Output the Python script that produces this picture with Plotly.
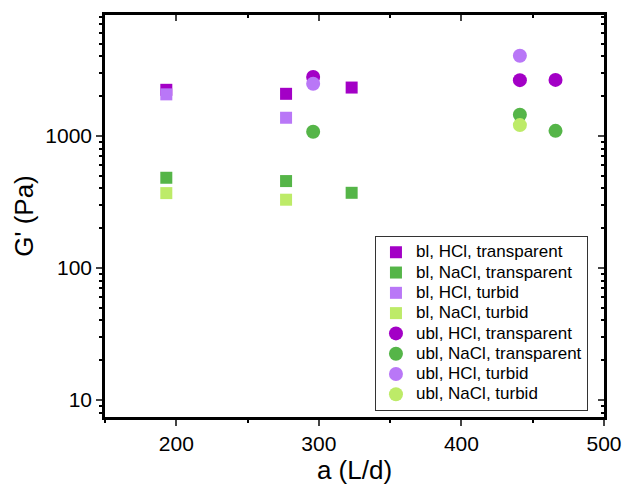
import plotly.graph_objects as go

# Data (a in L/d, G' in Pa)
bl_hcl_tr_x = [193, 277, 323]
bl_hcl_tr_y = [2230, 2080, 2320]
bl_nacl_tr_x = [193, 277, 323]
bl_nacl_tr_y = [481, 454, 370]
bl_hcl_tu_x = [193, 277]
bl_hcl_tu_y = [2060, 1370]
bl_nacl_tu_x = [193, 277]
bl_nacl_tu_y = [368, 328]
ubl_hcl_tr_x = [296, 441, 466]
ubl_hcl_tr_y = [2785, 2640, 2650]
ubl_nacl_tr_x = [296, 441, 466]
ubl_nacl_tr_y = [1072, 1443, 1090]
ubl_hcl_tu_x = [296, 441]
ubl_hcl_tu_y = [2480, 4040]
ubl_nacl_tu_x = [441]
ubl_nacl_tu_y = [1205]

C_HCL_TR = "#A300C6"
C_NACL_TR = "#55B548"
C_HCL_TU = "#B977F7"
C_NACL_TU = "#BDEB68"

series = [
    ("bl, HCl, transparent", bl_hcl_tr_x, bl_hcl_tr_y, C_HCL_TR, "square"),
    ("bl, NaCl, transparent", bl_nacl_tr_x, bl_nacl_tr_y, C_NACL_TR, "square"),
    ("bl, HCl, turbid", bl_hcl_tu_x, bl_hcl_tu_y, C_HCL_TU, "square"),
    ("bl, NaCl, turbid", bl_nacl_tu_x, bl_nacl_tu_y, C_NACL_TU, "square"),
    ("ubl, HCl, transparent", ubl_hcl_tr_x, ubl_hcl_tr_y, C_HCL_TR, "circle"),
    ("ubl, NaCl, transparent", ubl_nacl_tr_x, ubl_nacl_tr_y, C_NACL_TR, "circle"),
    ("ubl, HCl, turbid", ubl_hcl_tu_x, ubl_hcl_tu_y, C_HCL_TU, "circle"),
    ("ubl, NaCl, turbid", ubl_nacl_tu_x, ubl_nacl_tu_y, C_NACL_TU, "circle"),
]

fig = go.Figure()
for name, xs, ys, col, sym in series:
    fig.add_trace(go.Scatter(
        x=xs, y=ys, mode="markers",
        name='<span style="font-size:17px">' + name + '</span>',
        marker=dict(symbol=sym, color=col, size=12 if sym == "square" else 14,
                    line=dict(width=0)),
    ))

XR = [150, 500]
YR = [0.87, 3.915]
MINOR_Y = [v * d for d in [1, 10, 100, 1000] for v in range(2, 10)]

fig.update_layout(
    width=625, height=494,
    margin=dict(l=105, r=21, t=15, b=77, autoexpand=False),
    paper_bgcolor="white", plot_bgcolor="white",
    font=dict(family="Arial, Liberation Sans, sans-serif", size=20, color="black"),
    showlegend=True,
    legend=dict(x=0.541, y=0.45, xanchor="left", yanchor="top",
                bgcolor="white", bordercolor="#333", borderwidth=1,
                font=dict(size=13.3), itemwidth=30, tracegroupgap=0),
    xaxis=dict(range=XR, tickvals=[200, 300, 400, 500], ticks="outside",
               ticklen=6, tickwidth=2, showline=True, linewidth=2.5,
               linecolor="black", mirror=True, showgrid=False, zeroline=False,
               automargin=False,
               minor=dict(tickvals=[150, 250, 350, 450], ticks="outside",
                          ticklen=3, tickwidth=2, tickcolor="black"),
               title=dict(text="a (L/d)", font=dict(size=26), standoff=3),
               tickfont=dict(size=21)),
    yaxis=dict(type="log", range=YR, tickvals=[10, 100, 1000],
               ticktext=["10", "100", "1000"], ticks="outside",
               ticklen=6, tickwidth=2, showline=True, linewidth=2.5,
               linecolor="black", mirror=True, showgrid=False, zeroline=False,
               automargin=False,
               minor=dict(tickvals=MINOR_Y, ticks="outside", ticklen=3,
                          tickwidth=2, tickcolor="black"),
               title=dict(text="G' (Pa)", font=dict(size=26), standoff=5),
               tickfont=dict(size=21)),
    xaxis2=dict(range=XR, overlaying="x", side="top", tickvals=[200, 300, 400, 500],
                ticks="inside", ticklen=6, tickwidth=2, showticklabels=False,
                showgrid=False, zeroline=False, automargin=False,
                minor=dict(tickvals=[250, 350, 450], ticks="inside", ticklen=3,
                           tickwidth=2, tickcolor="black")),
    yaxis2=dict(type="log", range=YR, overlaying="y", side="right",
                tickvals=[10, 100, 1000], ticks="inside", ticklen=6, tickwidth=2,
                showticklabels=False, showgrid=False, zeroline=False, automargin=False,
                minor=dict(tickvals=MINOR_Y, ticks="inside", ticklen=3,
                           tickwidth=2, tickcolor="black")),
)
# invisible trace to activate the mirrored tick axes
fig.add_trace(go.Scatter(x=[None], y=[None], xaxis="x2", yaxis="y2",
                         showlegend=False, hoverinfo="skip"))

fig.write_html("out.html")
